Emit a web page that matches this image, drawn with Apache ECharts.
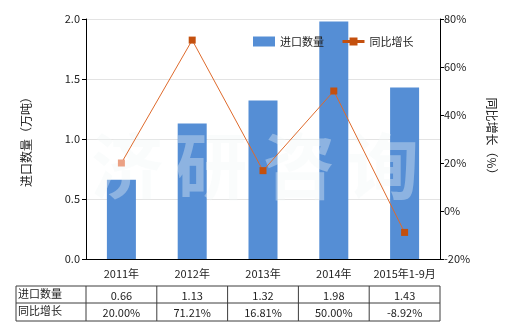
<!DOCTYPE html>
<html><head><meta charset="utf-8">
<script src="https://cdn.jsdelivr.net/npm/echarts@6/dist/echarts.min.js"></script>
<style>html,body{margin:0;padding:0;background:#fff}#c{width:520px;height:330px}</style>
</head><body><div id="c"></div>
<script>
var categories = ['2011年', '2012年', '2013年', '2014年', '2015年1-9月'];
var importQty = [0.66, 1.13, 1.32, 1.98, 1.43];
var yoyGrowth = [20.00, 71.21, 16.81, 50.00, -8.92];
var seriesNames = ['进口数量', '同比增长'];
var leftTicks = { min: 0, max: 2, interval: 0.5 };
var rightTicks = { min: -20, max: 80, interval: 20 };
var watermark = ['济', '研', '咨', '询'];

var FONT = '"Noto Sans CJK SC", "DejaVu Sans", sans-serif';
var chart = echarts.init(document.getElementById('c'), null, { renderer: 'canvas' });

var lineData = yoyGrowth.map(function (v, i) {
  if (i === 0) return { value: v, itemStyle: { color: '#eba184' } };
  return v;
});

var option = {
  animation: false,
  textStyle: { fontFamily: FONT },
  grid: { left: 86, right: 80, top: 19, bottom: 71, containLabel: false },
  legend: {
    top: 31, left: 248, itemWidth: 22, itemHeight: 10, itemGap: 17,
    textStyle: { fontSize: 11, color: '#222', fontFamily: FONT },
    data: [{ name: seriesNames[0], icon: 'rect' },
           { name: seriesNames[1], lineStyle: { width: 3, color: '#c4500e' } }]
  },
  xAxis: {
    type: 'category', data: categories,
    axisLine: { lineStyle: { color: '#000', width: 1 } },
    axisTick: { alignWithLabel: true, length: 4, lineStyle: { color: '#000' } },
    axisLabel: { interval: 0, color: '#222', fontSize: 11, margin: 9, fontFamily: FONT }
  },
  yAxis: [{
    type: 'value', min: leftTicks.min, max: leftTicks.max, interval: leftTicks.interval,
    name: '进口数量（万吨）', nameLocation: 'middle', nameRotate: 90, nameGap: 54,
    nameTextStyle: { fontSize: 12, color: '#222', fontFamily: FONT },
    axisLine: { show: true, lineStyle: { color: '#000' } },
    axisTick: { show: true, length: 4, lineStyle: { color: '#000' } },
    axisLabel: { color: '#222', fontSize: 11, margin: 6, formatter: function (v) { return v.toFixed(1); } },
    splitLine: { show: true, lineStyle: { color: '#e3e3e3' } }
  }, {
    type: 'value', min: rightTicks.min, max: rightTicks.max, interval: rightTicks.interval,
    name: '同比增长（%）', nameLocation: 'middle', nameRotate: -90, nameGap: 46,
    nameTextStyle: { fontSize: 12, color: '#222', fontFamily: FONT },
    axisLine: { show: true, lineStyle: { color: '#000' } },
    axisTick: { show: true, length: 4, lineStyle: { color: '#000' } },
    axisLabel: { color: '#222', fontSize: 11, margin: 4, formatter: '{value}%' },
    splitLine: { show: false }
  }],
  series: [{
    name: seriesNames[0], type: 'bar', data: importQty, barWidth: 29,
    itemStyle: { color: '#558ed5' }, z: 2
  }, {
    name: seriesNames[1], type: 'line', yAxisIndex: 1, data: lineData,
    symbol: 'rect', symbolSize: 7,
    lineStyle: { color: '#de6a2c', width: 1 },
    itemStyle: { color: '#c4500e' }, z: 4
  }]
};
chart.setOption(option);

function buildGraphics() {
  var els = [];
  var n = categories.length;
  var c0 = chart.convertToPixel({ xAxisIndex: 0 }, categories[0]);
  var c1 = chart.convertToPixel({ xAxisIndex: 0 }, categories[1]);
  var band = c1 - c0;
  var left0 = c0 - band / 2;
  var yBase = chart.convertToPixel({ yAxisIndex: 0 }, 0);
  var tTop = yBase + 27, tMid = tTop + 17, tBot = tMid + 18;
  var tLeft = 16, tRight = left0 + band * n;
  var ls = { stroke: '#3c3c3c', lineWidth: 1 };
  function ln(x1, y1, x2, y2) {
    els.push({ type: 'line', shape: { x1: x1, y1: y1, x2: x2, y2: y2 }, style: ls, silent: true, z: 10 });
  }
  ln(tLeft, tTop, tRight, tTop);
  ln(tLeft, tMid, tRight, tMid);
  ln(tLeft, tBot, tRight, tBot);
  ln(tLeft, tTop, tLeft, tBot);
  for (var i = 0; i <= n; i++) { var x = left0 + band * i; ln(x, tTop, x, tBot); }
  var rows = [
    { label: seriesNames[0], vals: importQty.map(function (v) { return v.toFixed(2); }), y: (tTop + tMid) / 2 },
    { label: seriesNames[1], vals: yoyGrowth.map(function (v) { return v.toFixed(2) + '%'; }), y: (tMid + tBot) / 2 }
  ];
  rows.forEach(function (r) {
    els.push({ type: 'text', x: tLeft + 2, y: r.y - 1, style: { text: r.label, fill: '#222', font: '11px ' + FONT, textAlign: 'left', textVerticalAlign: 'middle' }, z: 10 });
    r.vals.forEach(function (t, i) {
      var cx = chart.convertToPixel({ xAxisIndex: 0 }, categories[i]);
      els.push({ type: 'text', x: cx, y: r.y + 1, style: { text: t, fill: '#222', font: '11px ' + FONT, textAlign: 'center', textVerticalAlign: 'middle' }, z: 10 });
    });
  });
  // watermark
  var wmX = [127, 211, 299, 383];
  watermark.forEach(function (ch, i) {
    els.push({ type: 'text', x: wmX[i], y: 166, style: { text: ch, fill: 'rgba(240,246,246,0.36)', font: 'bold 72px "Noto Sans CJK SC", sans-serif', textAlign: 'center', textVerticalAlign: 'middle' }, z: 3, silent: true });
  });
  chart.setOption({ graphic: { elements: els } });
}
buildGraphics();
</script></body></html>
